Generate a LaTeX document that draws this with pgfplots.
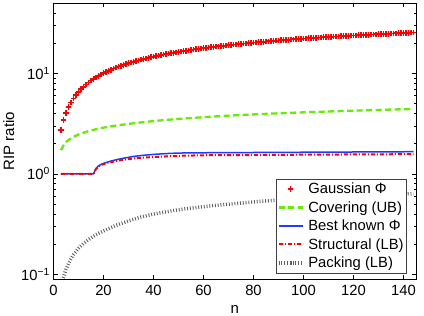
\documentclass[border=0pt]{standalone}
\usepackage{fontspec}
\setmainfont{Liberation Sans}
\usepackage{pgfplots}
\pgfplotsset{compat=1.18}
\definecolor{cgreen}{RGB}{100,238,0}
\definecolor{cblue}{RGB}{30,60,255}
\definecolor{cgray}{RGB}{95,95,95}
\begin{document}
\begin{tikzpicture}
\begin{axis}[
  name=ax,
  scale only axis,
  width=362.5pt, height=276pt,
  ymode=log,
  xmin=0, xmax=145, ymin=0.09, ymax=50,
  xtick={0,20,...,140},
  ytick={0.1,1,10},
  yticklabels={10\textsuperscript{\textminus1},10\textsuperscript{0},10\textsuperscript{1}},
  minor ytick={0.2,0.3,0.4,0.5,0.6,0.7,0.8,0.9,2,3,4,5,6,7,8,9,20,30,40},
  tick align=inside,
  major tick length=4pt, minor tick length=2.5pt,
  every tick/.style={black, line width=0.4pt},
  axis line style={line width=0.6pt},
  /pgf/number format/assume math mode=true,
  tick label style={font=\fontsize{14.8}{17}\selectfont},
  xticklabel style={yshift=-2.5pt},
  label style={font=\fontsize{15}{18}\selectfont},
  xlabel={n}, ylabel={RIP ratio},
  xlabel style={yshift=-3pt},
  legend cell align=left,
  legend style={at={(0.975,0.021)}, anchor=south east, font=\fontsize{14.8}{17.5}\selectfont,
    draw=black!75, line width=0.5pt, inner xsep=1pt, inner ysep=2pt, row sep=2.2pt,
    /tikz/every odd column/.append style={column sep=2pt}},
  legend image code/.code={\draw[mark repeat=2,mark phase=2] plot coordinates {(0pt,0pt) (12pt,0pt) (24pt,0pt)};},
]
\addplot[only marks, mark=+, mark size=2.8pt, red, line width=1.7pt] coordinates {
(3,2.72)(4,3.41)(5,4.03)(6,4.60)(7,5.13)(8,5.62)(9,6.09)(10,6.53)(11,6.95)(12,7.35)(13,7.73)(14,8.10)(15,8.45)(16,8.79)(17,9.12)(18,9.43)(19,9.74)(20,10.03)(21,10.31)(22,10.58)(23,10.85)(24,11.12)(25,11.39)(26,11.64)(27,11.88)(28,12.12)(29,12.36)(30,12.59)(31,12.80)(32,13.02)(33,13.23)(34,13.44)(35,13.65)(36,13.85)(37,14.04)(38,14.24)(39,14.43)(40,14.62)(41,14.80)(42,14.97)(43,15.15)(44,15.33)(45,15.50)(46,15.66)(47,15.83)(48,15.99)(49,16.15)(50,16.31)(51,16.46)(52,16.60)(53,16.75)(54,16.89)(55,17.04)(56,17.19)(57,17.33)(58,17.48)(59,17.62)(60,17.77)(61,17.90)(62,18.02)(63,18.15)(64,18.28)(65,18.41)(66,18.53)(67,18.66)(68,18.79)(69,18.91)(70,19.04)(71,19.15)(72,19.27)(73,19.38)(74,19.49)(75,19.61)(76,19.72)(77,19.83)(78,19.94)(79,20.06)(80,20.17)(81,20.27)(82,20.38)(83,20.48)(84,20.58)(85,20.69)(86,20.79)(87,20.89)(88,20.99)(89,21.10)(90,21.20)(91,21.29)(92,21.39)(93,21.48)(94,21.57)(95,21.67)(96,21.76)(97,21.85)(98,21.94)(99,22.04)(100,22.13)(101,22.22)(102,22.30)(103,22.39)(104,22.47)(105,22.56)(106,22.64)(107,22.73)(108,22.81)(109,22.90)(110,22.98)(111,23.06)(112,23.14)(113,23.21)(114,23.29)(115,23.37)(116,23.45)(117,23.53)(118,23.60)(119,23.68)(120,23.76)(121,23.83)(122,23.90)(123,23.98)(124,24.05)(125,24.12)(126,24.19)(127,24.26)(128,24.34)(129,24.41)(130,24.48)(131,24.55)(132,24.62)(133,24.68)(134,24.75)(135,24.82)(136,24.89)(137,24.96)(138,25.02)(139,25.09)(140,25.16)(141,25.23)(142,25.29)(143,25.36)(144,25.42)
};
\addlegendentry{Gaussian Φ}
\addplot[cgreen, line width=2.3pt, dash pattern=on 6pt off 3.5pt] coordinates {
(3,1.72)(4,1.92)(5,2.07)(6,2.17)(7,2.25)(8,2.33)(9,2.40)(10,2.46)(12,2.56)(14,2.66)(17,2.78)(20,2.88)(25,3.02)(30,3.14)(40,3.35)(50,3.52)(60,3.66)(70,3.79)(80,3.90)(90,4.00)(100,4.09)(110,4.17)(120,4.25)(130,4.32)(144,4.42)
};
\addlegendentry{Covering (UB)}
\addplot[cblue, line width=1.5pt] coordinates {
(3,1)(16,1)(17,1.13)(18,1.20)(19,1.24)(20,1.27)(22,1.32)(25,1.38)(28,1.43)(32,1.49)(36,1.53)(40,1.56)(45,1.59)(50,1.61)(60,1.62)(80,1.63)(100,1.64)(144,1.66)
};
\addlegendentry{Best known Φ}
\addplot[red, line width=2pt, dash pattern=on 4pt off 2pt on 1pt off 2pt] coordinates {
(3,1)(16,1)(17,1.12)(18,1.18)(19,1.22)(20,1.25)(22,1.29)(25,1.34)(28,1.38)(32,1.42)(36,1.45)(40,1.47)(45,1.49)(50,1.51)(60,1.53)(80,1.54)(100,1.55)(144,1.57)
};
\addlegendentry{Structural (LB)}
\addplot[cgray, line width=3.5pt, dash pattern=on 0.9pt off 1.9pt] coordinates {
(3,0.082)(4,0.094)(5,0.112)(6,0.128)(7,0.143)(8,0.157)(10,0.182)(12,0.203)(14,0.222)(17,0.248)(20,0.270)(25,0.308)(30,0.340)(35,0.372)(40,0.398)(50,0.440)(60,0.472)(70,0.500)(80,0.525)(90,0.550)(100,0.570)(120,0.600)(144,0.635)
};
\addlegendentry{Packing (LB)}
\end{axis}
\pgfresetboundingbox
\path ([xshift=-53.5pt,yshift=-37pt]ax.south west) rectangle ([xshift=8pt,yshift=3pt]ax.north east);
\end{tikzpicture}
\end{document}
